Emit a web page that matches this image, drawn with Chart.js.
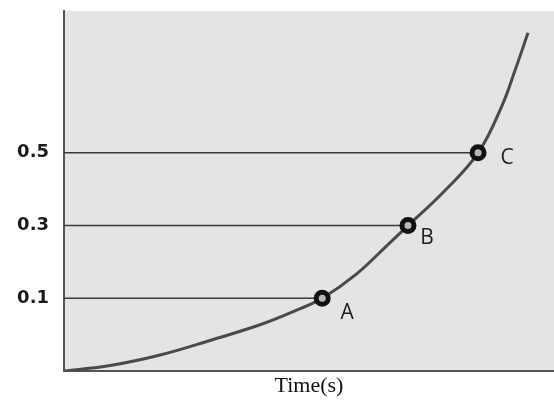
<!DOCTYPE html>
<html>
<head>
<meta charset="utf-8">
<script src="https://cdn.jsdelivr.net/npm/chart.js@4/dist/chart.umd.min.js"></script>
<style>
  body { margin: 0; background: #fff; }
  #wrap { width: 554px; height: 400px; }
</style>
</head>
<body>
<div id="wrap"><canvas id="curveChart"></canvas></div>
<script>
// curve
const curveTime = [0, 0.94, 1.96, 2.98, 4.06, 4.76, 5.27, 5.98, 6.59, 7.02, 7.73, 8.45, 8.94, 9.2, 9.47];
const curveValue = [-0.1, -0.085, -0.056, -0.016, 0.03, 0.068, 0.1, 0.168, 0.245, 0.3, 0.39, 0.5, 0.63, 0.725, 0.83];

// marked points
const pointNames = ["A", "B", "C"];
const pointTime = [5.27, 7.02, 8.45];
const pointValue = [0.1, 0.3, 0.5];

const yTicks = [0.1, 0.3, 0.5];

function toXY(xs, ys) {
  const out = [];
  for (let i = 0; i < xs.length; i++) out.push({ x: xs[i], y: ys[i] });
  return out;
}

const guideSets = [];
for (let i = 0; i < pointTime.length; i++) {
  guideSets.push({
    data: [{ x: 0, y: pointValue[i] }, { x: pointTime[i], y: pointValue[i] }],
    borderColor: "#3a3a3a",
    borderWidth: 1.5,
    pointRadius: 0,
    order: 3,
  });
}

const plotBackground = {
  id: "plotBackground",
  beforeDraw(chart) {
    const a = chart.chartArea;
    const ctx = chart.ctx;
    ctx.save();
    ctx.fillStyle = "#e4e4e4";
    ctx.fillRect(a.left, a.top, a.right - a.left, a.bottom - a.top);
    ctx.restore();
  },
};

const pointLabels = {
  id: "pointLabels",
  afterDatasetsDraw(chart) {
    const meta = chart.getDatasetMeta(0);
    const offsets = [[25, 15], [19, 12], [29, 5]];
    const ctx = chart.ctx;
    ctx.save();
    ctx.font = "21px 'Open Sans', sans-serif";
    ctx.fillStyle = "#1e1e1e";
    ctx.textAlign = "center";
    ctx.textBaseline = "middle";
    for (let i = 0; i < meta.data.length; i++) {
      const p = meta.data[i];
      ctx.fillText(pointNames[i], p.x + offsets[i][0], p.y + offsets[i][1]);
    }
    ctx.restore();
  },
};

new Chart(document.querySelector("#curveChart").getContext("2d"), {
  type: "line",
  data: {
    datasets: [
      {
        data: toXY(pointTime, pointValue),
        showLine: false,
        pointRadius: 6,
        pointBorderWidth: 5,
        pointBackgroundColor: "#b8b8b8",
        pointBorderColor: "#111",
        order: 1,
      },
      {
        data: toXY(curveTime, curveValue),
        borderColor: "#4a4a4a",
        borderWidth: 3,
        pointRadius: 0,
        tension: 0.4,
        order: 2,
      },
      ...guideSets,
    ],
  },
  options: {
    responsive: true,
    maintainAspectRatio: false,
    animation: false,
    layout: { autoPadding: false, padding: { top: 11, right: 0, left: 0, bottom: 0 } },
    plugins: {
      legend: { display: false },
      tooltip: { enabled: false },
    },
    scales: {
      x: {
        type: "linear",
        min: 0,
        max: 10,
        grid: { display: false, drawTicks: false },
        border: { display: true, color: "#555", width: 2 },
        ticks: { display: false },
        title: {
          display: true,
          text: "Time(s)",
          color: "#111",
          font: { family: "'Liberation Serif', serif", size: 22 },
          padding: { top: 0, bottom: 1 },
        },
        afterFit(scale) {
          scale.height = 29;
          scale.paddingLeft = 0;
          scale.paddingRight = 0;
        },
      },
      y: {
        type: "linear",
        min: -0.1,
        max: 0.89,
        grid: { display: false, drawTicks: false },
        border: { display: true, color: "#555", width: 2 },
        afterBuildTicks(scale) {
          scale.ticks = yTicks.map(v => ({ value: v }));
        },
        ticks: {
          padding: 15,
          color: "#1a1a1a",
          font: { family: "'DejaVu Sans', sans-serif", size: 18, weight: "bold" },
          callback: v => v.toFixed(1),
        },
        afterFit(scale) {
          scale.width = 64;
          scale.paddingTop = 0;
          scale.paddingBottom = 0;
        },
      },
    },
  },
  plugins: [plotBackground, pointLabels],
});
</script>
</body>
</html>
